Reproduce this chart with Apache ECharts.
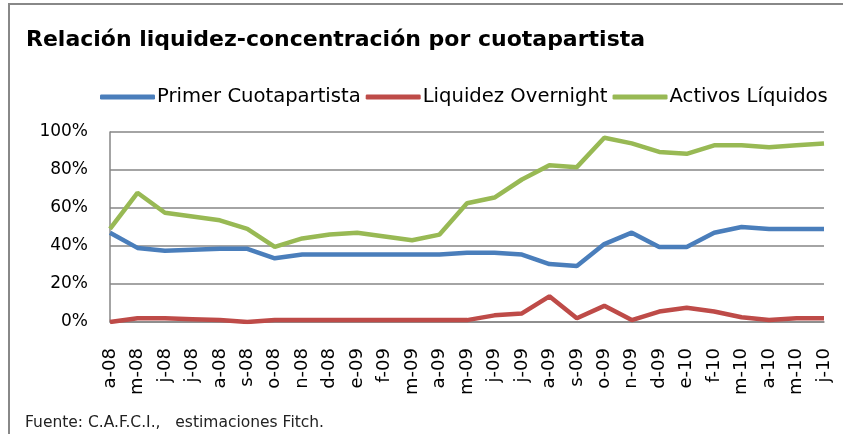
<!DOCTYPE html>
<html>
<head>
<meta charset="utf-8">
<script src="https://cdn.jsdelivr.net/npm/echarts@6/dist/echarts.min.js"></script>
<style>
  html, body { margin: 0; padding: 0; background: #fff; }
  #chart { width: 843px; height: 434px; }
</style>
</head>
<body>
<div id="chart"></div>
<script>
const months = ['a-08', 'm-08', 'j-08', 'j-08', 'a-08', 's-08', 'o-08', 'n-08', 'd-08',
  'e-09', 'f-09', 'm-09', 'a-09', 'm-09', 'j-09', 'j-09', 'a-09', 's-09', 'o-09', 'n-09', 'd-09',
  'e-10', 'f-10', 'm-10', 'a-10', 'm-10', 'j-10']

// valores en %
const primerCuotapartista = [47, 39, 37.5, 38, 38.5, 38.5, 33.5, 35.5, 35.5, 35.5, 35.5, 35.5, 35.5,
  36.5, 36.5, 35.5, 30.5, 29.5, 41, 47, 39.5, 39.5, 47, 50, 49, 49, 49]
const liquidezOvernight = [0, 2, 2, 1.5, 1, 0, 1, 1, 1, 1, 1, 1, 1,
  1, 3.5, 4.5, 13.5, 2, 8.5, 1, 5.5, 7.5, 5.5, 2.5, 1, 2, 2]
const activosLiquidos = [49, 68, 57.5, 55.5, 53.5, 49, 39.5, 44, 46, 47, 45, 43, 46,
  62.5, 65.5, 75, 82.5, 81.5, 97, 94, 89.5, 88.5, 93, 93, 92, 93, 94]

const chart = echarts.init(document.getElementById('chart'))

const font = 'DejaVu Sans'
const gridColor = '#868686'

const option = {
  backgroundColor: '#fff',
  animation: false,
  title: {
    text: 'Relación liquidez-concentración por cuotapartista',
    left: 21,
    top: 24,
    textStyle: { fontFamily: font, fontSize: 22, fontWeight: 'bold', color: '#000' }
  },
  legend: {
    left: 95,
    top: 82,
    itemWidth: 55,
    itemHeight: 5,
    itemGap: 5,
    icon: 'roundRect',
    textStyle: { fontFamily: font, fontSize: 19.6, color: '#000', padding: [0, 0, 0, -3] },
    data: ['Primer Cuotapartista', 'Liquidez Overnight', 'Activos Líquidos']
  },
  grid: { left: 110, right: 19, top: 132, bottom: 112 },
  xAxis: {
    type: 'category',
    data: months,
    boundaryGap: false,
    axisLine: { show: true, lineStyle: { color: gridColor, width: 1.5 } },
    axisTick: { show: false },
    axisLabel: {
      interval: 0,
      rotate: 90,
      margin: 26,
      fontFamily: font,
      fontSize: 18,
      color: '#000'
    }
  },
  yAxis: {
    type: 'value',
    min: 0,
    max: 100,
    interval: 20,
    axisLine: { show: true, lineStyle: { color: gridColor, width: 1.5 } },
    axisTick: { show: false },
    splitLine: { lineStyle: { color: gridColor, width: 1.5 } },
    axisLabel: {
      formatter: '{value}%',
      margin: 22,
      fontFamily: font,
      fontSize: 17,
      color: '#000'
    }
  },
  series: [
    {
      name: 'Primer Cuotapartista',
      type: 'line',
      data: primerCuotapartista,
      symbol: 'none',
      itemStyle: { color: '#4A7EBB' },
      lineStyle: { width: 4.5, color: '#4A7EBB' }
    },
    {
      name: 'Liquidez Overnight',
      type: 'line',
      data: liquidezOvernight,
      symbol: 'none',
      itemStyle: { color: '#BE4B48' },
      lineStyle: { width: 4.5, color: '#BE4B48' }
    },
    {
      name: 'Activos Líquidos',
      type: 'line',
      data: activosLiquidos,
      symbol: 'none',
      itemStyle: { color: '#98B954' },
      lineStyle: { width: 4.5, color: '#98B954' }
    }
  ],
  graphic: [
    {
      type: 'rect',
      shape: { x: 9, y: 4, width: 900, height: 500 },
      style: { fill: 'none', stroke: '#888', lineWidth: 2 },
      silent: true
    },
    {
      type: 'text',
      left: 25,
      top: 415,
      style: {
        text: 'Fuente: C.A.F.C.I.,   estimaciones Fitch.',
        fontFamily: font,
        fontSize: 15.5,
        fill: '#222'
      }
    }
  ]
}

chart.setOption(option)
window.addEventListener('resize', () => chart.resize())
</script>
</body>
</html>
